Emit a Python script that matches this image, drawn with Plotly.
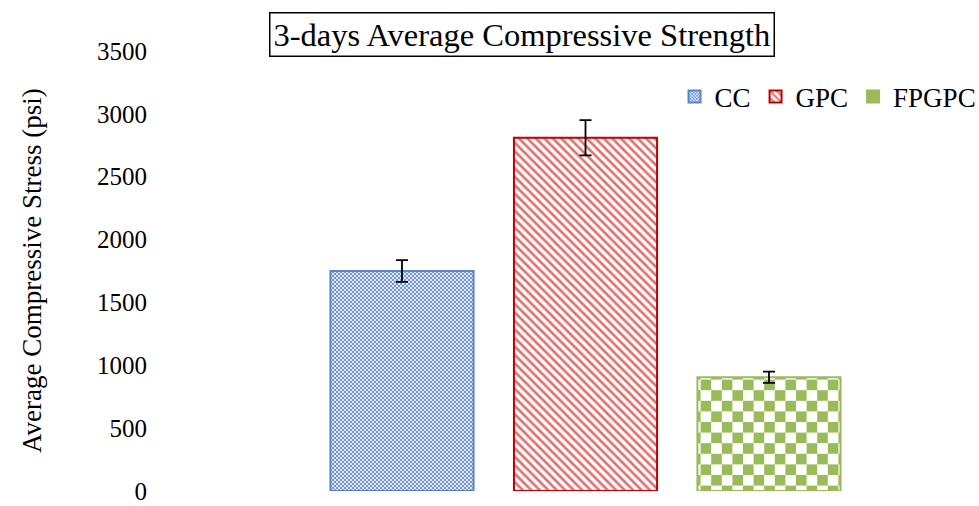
import plotly.graph_objects as go

categories = ["CC", "GPC", "FPGPC"]
values = [1750, 2810, 905]
errors = [87, 140, 45]
tick_vals = [0, 500, 1000, 1500, 2000, 2500, 3000, 3500]

FONT = "Liberation Serif, Times New Roman, serif"

styles = {
    "CC": dict(line="#5B84C9", fg="#7596D6", bg="#E2E9F6", size=4,
               path="M0,0H2V2H0Z M2,2H4V4H2Z"),
    "GPC": dict(line="#C00000", fg="#E07272", bg="#FFFFFF", size=6, shape="\\"),
    "FPGPC": dict(line="#9BBB59", fg="#9BBB59", bg="#FFFFFF", size=21.2,
                  path="M0,0H10.6V10.6H0Z M10.6,10.6H21.2V21.2H10.6Z"),
}

fig = go.Figure()
for cat, val, err in zip(categories, values, errors):
    s = styles[cat]
    pattern = dict(fgcolor=s["fg"], bgcolor=s["bg"], size=s["size"], fillmode="replace")
    if "path" in s:
        pattern["path"] = s["path"]
    else:
        pattern["shape"] = s["shape"]
        pattern["solidity"] = 0.45
    fig.add_trace(go.Bar(
        x=[cat], y=[val], name=cat, width=0.78,
        marker=dict(color=s["bg"], line=dict(color=s["line"], width=2), pattern=pattern),
        error_y=dict(type="data", array=[err], color="black", thickness=1.8, width=6),
    ))

L, R, T = 160, 4, 51
PH = 440
BOTTOM = T + PH
B = 506 - BOTTOM
plot_w = 979 - L - R
spacing = 183.5
xmin = (L - 402) / spacing
xmax = xmin + plot_w / spacing

fig.update_layout(
    width=979, height=506,
    margin=dict(l=L, r=R, t=T, b=B, pad=0, autoexpand=False),
    paper_bgcolor="white", plot_bgcolor="white",
    barmode="overlay",
    font=dict(family=FONT, size=25, color="black"),
    showlegend=True,
    legend=dict(orientation="h", x=1.008, xanchor="right", y=(BOTTOM - 97) / PH, yanchor="middle",
                font=dict(family=FONT, size=27), bgcolor="rgba(0,0,0,0)"),
    xaxis=dict(type="category", range=[xmin, xmax], showticklabels=False, showgrid=False,
               zeroline=False, showline=False, ticks="", automargin=False),
    yaxis=dict(range=[0, 3500], tickvals=tick_vals, showgrid=False, zeroline=False,
               showline=False, ticks="outside", ticklen=7, tickcolor="rgba(0,0,0,0)",
               ticklabeloverflow="allow", automargin=False,
               tickfont=dict(family=FONT, size=25)),
    annotations=[
        dict(text="3-days Average Compressive Strength", xref="paper", yref="paper",
             x=(522 - L) / plot_w, y=(BOTTOM - 34) / PH, xanchor="center", yanchor="middle",
             showarrow=False, font=dict(family=FONT, size=32.5),
             bordercolor="black", borderwidth=1.5, borderpad=3, bgcolor="white"),
        dict(text="Average Compressive Stress (psi)", xref="paper", yref="paper",
             x=(32 - L) / plot_w, y=(BOTTOM - 271) / PH, xanchor="center", yanchor="middle",
             textangle=-90, showarrow=False, font=dict(family=FONT, size=27)),
    ],
)

fig.write_html("out.html", config={"displayModeBar": False},
               post_script="document.body.style.margin='0px';document.body.style.overflow='hidden';")
